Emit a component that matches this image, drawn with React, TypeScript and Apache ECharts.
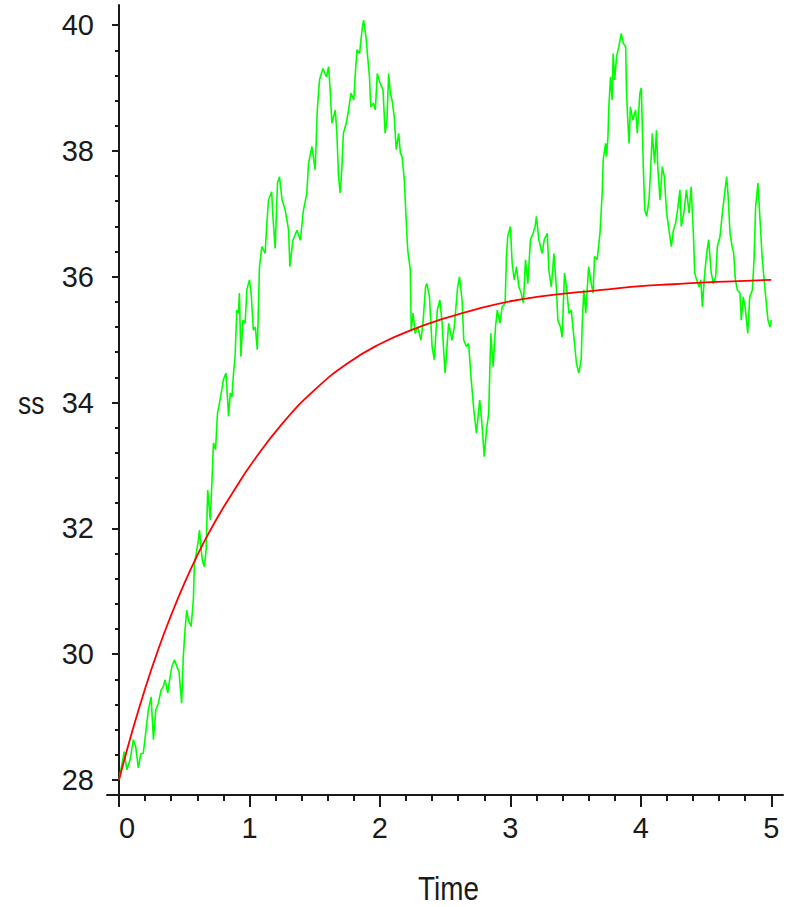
import React, { useEffect, useRef } from "react";
import * as echarts from "echarts";

// ---- tick labels ----
const xMajorTicks = [0, 1, 2, 3, 4, 5];
const yMajorTicks = [28, 30, 32, 34, 36, 38, 40];
const xAxisTitle = "Time";
const yAxisTitle = "ss";

// ---- red (mean) curve: [time, ss] ----
const meanPath: [number, number][] = [
  [0, 28.0], [0.1, 28.76], [0.2, 29.45], [0.3, 30.07], [0.4, 30.62], [0.5, 31.12],
  [0.6, 31.57], [0.7, 31.97], [0.8, 32.33], [0.9, 32.66], [1.0, 32.98], [1.25, 33.66],
  [1.5, 34.2], [1.75, 34.62], [2.0, 34.93], [2.25, 35.16], [2.5, 35.34], [2.75, 35.49],
  [3.0, 35.61], [3.25, 35.69], [3.5, 35.75], [3.75, 35.8], [4.0, 35.85], [4.25, 35.88],
  [4.5, 35.91], [4.75, 35.93], [5.0, 35.95],
];

// ---- green (simulated) path: [time, ss] ----
const simulatedPath: [number, number][] = [
  [0, 28.0], [0.04, 28.45], [0.06, 28.16], [0.085, 28.32], [0.11, 28.64], [0.128, 28.53],
  [0.148, 28.19], [0.168, 28.42], [0.186, 28.42], [0.204, 28.74], [0.225, 29.11], [0.246, 29.32],
  [0.264, 28.64], [0.282, 29.11], [0.302, 29.22], [0.323, 29.43], [0.34, 29.48], [0.353, 29.59],
  [0.374, 29.38], [0.384, 29.54], [0.405, 29.8], [0.425, 29.91], [0.444, 29.8], [0.46, 29.72],
  [0.48, 29.22], [0.493, 29.96], [0.506, 30.38], [0.519, 30.7], [0.532, 30.54], [0.553, 30.44],
  [0.57, 30.86], [0.578, 31.44], [0.597, 31.66], [0.609, 31.82], [0.617, 31.97], [0.635, 31.55],
  [0.645, 31.44], [0.655, 31.39], [0.668, 31.66], [0.68, 32.61], [0.7, 32.13], [0.713, 32.77],
  [0.724, 33.36], [0.74, 33.25], [0.755, 33.83], [0.77, 33.99], [0.788, 34.2], [0.8, 34.36],
  [0.82, 34.47], [0.84, 33.78], [0.853, 34.15], [0.866, 34.09], [0.878, 34.47], [0.89, 34.73],
  [0.903, 35.47], [0.916, 35.42], [0.923, 35.74], [0.934, 34.73], [0.95, 35.31], [0.967, 35.26],
  [0.98, 35.79], [0.992, 35.89], [1.0, 35.95], [1.013, 35.74], [1.03, 35.15], [1.045, 35.2],
  [1.06, 34.84], [1.077, 36.16], [1.095, 36.48], [1.12, 36.37], [1.13, 36.74], [1.146, 37.22],
  [1.17, 37.35], [1.18, 36.96], [1.197, 36.45], [1.215, 37.49], [1.23, 37.59], [1.25, 37.22],
  [1.274, 37.06], [1.3, 36.74], [1.31, 36.16], [1.333, 36.58], [1.364, 36.74], [1.39, 36.58],
  [1.414, 37.06], [1.44, 37.33], [1.453, 37.8], [1.479, 38.07], [1.504, 37.7], [1.52, 38.65],
  [1.537, 39.13], [1.563, 39.31], [1.59, 39.18], [1.607, 39.34], [1.62, 38.92], [1.632, 38.44],
  [1.658, 38.65], [1.67, 38.28], [1.683, 37.59], [1.696, 37.33], [1.709, 37.75], [1.72, 38.28],
  [1.742, 38.44], [1.76, 38.65], [1.778, 38.92], [1.8, 38.81], [1.81, 39.18], [1.824, 39.61],
  [1.844, 39.55], [1.863, 39.92], [1.875, 40.08], [1.893, 39.82], [1.906, 39.5], [1.92, 39.18],
  [1.93, 38.7], [1.95, 38.76], [1.965, 38.65], [1.98, 39.23], [2.003, 39.07], [2.024, 38.97],
  [2.04, 38.28], [2.054, 38.49], [2.067, 39.23], [2.08, 38.92], [2.093, 38.81], [2.11, 38.54],
  [2.125, 38.02], [2.144, 38.28], [2.157, 37.96], [2.17, 37.91], [2.187, 37.54], [2.2, 36.96],
  [2.213, 36.43], [2.233, 36.11], [2.24, 35.15], [2.254, 35.42], [2.27, 35.1], [2.29, 35.2],
  [2.315, 34.99], [2.33, 35.26], [2.35, 35.84], [2.36, 35.89], [2.38, 35.68], [2.4, 34.89],
  [2.417, 34.68], [2.44, 35.47], [2.46, 35.63], [2.477, 35.26], [2.49, 34.78], [2.5, 34.47],
  [2.527, 35.26], [2.553, 34.99], [2.57, 35.2], [2.596, 35.84], [2.61, 36.0], [2.63, 35.63],
  [2.643, 34.99], [2.663, 34.89], [2.68, 34.94], [2.7, 34.36], [2.72, 33.88], [2.74, 33.51],
  [2.765, 34.04], [2.78, 33.72], [2.8, 33.14], [2.817, 33.56], [2.834, 33.83], [2.85, 35.1],
  [2.868, 34.57], [2.886, 35.2], [2.9, 35.47], [2.92, 35.26], [2.937, 35.52], [2.96, 35.58],
  [2.97, 36.32], [2.98, 36.64], [3.0, 36.8], [3.014, 36.21], [3.03, 35.95], [3.047, 36.16],
  [3.065, 35.84], [3.083, 35.74], [3.1, 35.58], [3.116, 36.27], [3.134, 35.89], [3.154, 36.59],
  [3.174, 36.69], [3.19, 36.8], [3.2, 36.96], [3.218, 36.59], [3.244, 36.37], [3.26, 36.59],
  [3.283, 36.69], [3.295, 36.11], [3.314, 35.84], [3.334, 36.37], [3.354, 35.79], [3.364, 35.31],
  [3.384, 35.2], [3.397, 35.04], [3.415, 36.06], [3.43, 35.84], [3.449, 35.42], [3.467, 35.47],
  [3.487, 35.04], [3.507, 34.62], [3.525, 34.47], [3.543, 34.68], [3.55, 35.2], [3.563, 35.79],
  [3.578, 35.42], [3.6, 36.16], [3.62, 35.89], [3.635, 35.74], [3.645, 36.32], [3.665, 36.27],
  [3.687, 36.69], [3.704, 37.33], [3.712, 37.86], [3.73, 38.12], [3.737, 37.91], [3.748, 38.22],
  [3.755, 38.7], [3.768, 39.18], [3.78, 38.81], [3.788, 39.55], [3.8, 39.13], [3.814, 39.5],
  [3.832, 39.66], [3.85, 39.87], [3.866, 39.71], [3.884, 39.66], [3.89, 38.97], [3.9, 38.49],
  [3.91, 38.12], [3.92, 38.7], [3.94, 38.49], [3.96, 38.65], [3.973, 38.28], [3.993, 38.92],
  [4.004, 39.0], [4.02, 37.7], [4.03, 37.06], [4.045, 36.96], [4.063, 37.22], [4.075, 37.7],
  [4.088, 38.28], [4.106, 37.8], [4.12, 38.33], [4.13, 37.75], [4.147, 37.22], [4.165, 37.75],
  [4.18, 37.59], [4.198, 37.01], [4.216, 36.74], [4.234, 36.48], [4.25, 36.74], [4.267, 36.85],
  [4.285, 37.11], [4.3, 37.38], [4.31, 36.8], [4.33, 37.01], [4.35, 37.38], [4.37, 37.01],
  [4.386, 37.43], [4.403, 36.69], [4.413, 36.06], [4.428, 35.95], [4.446, 35.84], [4.46, 35.95],
  [4.472, 35.52], [4.49, 36.06], [4.505, 36.37], [4.52, 36.59], [4.54, 36.06], [4.556, 35.89],
  [4.574, 36.0], [4.587, 36.48], [4.607, 36.64], [4.625, 37.01], [4.643, 37.33], [4.658, 37.59],
  [4.668, 37.33], [4.684, 36.69], [4.7, 36.48], [4.712, 36.37], [4.725, 35.95], [4.74, 35.79],
  [4.76, 35.74], [4.77, 35.31], [4.785, 35.68], [4.8, 35.52], [4.82, 35.1], [4.835, 35.68],
  [4.855, 35.79], [4.868, 36.27], [4.88, 37.11], [4.898, 37.49], [4.914, 36.9], [4.93, 36.32],
  [4.95, 35.84], [4.965, 35.52], [4.975, 35.31], [4.99, 35.2], [5.0, 35.31],
];

const FONT = "'Liberation Sans', Arial, sans-serif";
const INK = "#1a1a1a";

function minorValues(major: number[], parts: number): number[] {
  const out: number[] = [];
  for (let i = 0; i < major.length - 1; i++) {
    const step = (major[i + 1] - major[i]) / parts;
    for (let k = 1; k < parts; k++) out.push(+(major[i] + k * step).toFixed(4));
  }
  return out;
}

export default function App() {
  const ref = useRef<HTMLDivElement>(null);

  useEffect(() => {
    document.body.style.margin = "0";
    if (!ref.current) return;
    const chart = echarts.init(ref.current, null, { renderer: "svg" });

    const xMin = -0.092;
    const xMax = 5.09;
    const yMin = 27.76;
    const yMax = 40.32;

    const common = { min: 0, max: 0 };
    void common;

    chart.setOption({
      animation: false,
      backgroundColor: "#ffffff",
      grid: { left: 107, top: 5, width: 676, height: 790, containLabel: false },
      xAxis: [
        {
          type: "value",
          min: xMin,
          max: xMax,
          position: "bottom",
          axisLine: { show: true, onZero: false, lineStyle: { color: INK, width: 2 } },
          axisTick: {
            show: true,
            customValues: xMajorTicks,
            length: 12,
            inside: false,
            lineStyle: { color: INK, width: 2 },
          },
          axisLabel: {
            show: true,
            customValues: xMajorTicks,
            margin: 18,
            color: INK,
            fontSize: 29,
            fontFamily: FONT,
            formatter: (v: number) => (v === 0 ? "{z|0}" : "{n|" + String(v) + "}"),
            rich: {
              z: { fontSize: 29, fontFamily: FONT, color: INK, padding: [0, 0, 0, 16] },
              n: { fontSize: 29, fontFamily: FONT, color: INK },
            },
          },
          splitLine: { show: false },
        },
        {
          type: "value",
          min: xMin,
          max: xMax,
          position: "bottom",
          axisLine: { show: false, onZero: false },
          axisTick: {
            show: true,
            customValues: minorValues(xMajorTicks, 5),
            length: 6,
            lineStyle: { color: INK, width: 2 },
          },
          axisLabel: { show: false },
          splitLine: { show: false },
        },
      ],
      yAxis: [
        {
          type: "value",
          min: yMin,
          max: yMax,
          position: "left",
          axisLine: { show: true, onZero: true, lineStyle: { color: INK, width: 2 } },
          axisTick: {
            show: true,
            customValues: yMajorTicks,
            length: 7,
            lineStyle: { color: INK, width: 2 },
          },
          axisLabel: {
            show: true,
            customValues: yMajorTicks,
            margin: 13,
            color: INK,
            fontSize: 29,
            fontFamily: FONT,
          },
          splitLine: { show: false },
        },
        {
          type: "value",
          min: yMin,
          max: yMax,
          position: "left",
          axisLine: { show: false, onZero: true },
          axisTick: {
            show: true,
            customValues: minorValues(yMajorTicks, 5),
            length: 4,
            lineStyle: { color: INK, width: 2 },
          },
          axisLabel: { show: false },
          splitLine: { show: false },
        },
      ],
      series: [
        {
          name: "simulated",
          type: "line",
          data: simulatedPath,
          showSymbol: false,
          symbol: "none",
          lineStyle: { color: "#00ff00", width: 1.6 },
          xAxisIndex: 0,
          yAxisIndex: 0,
          z: 2,
        },
        {
          name: "mean",
          type: "line",
          data: meanPath,
          smooth: true,
          showSymbol: false,
          symbol: "none",
          lineStyle: { color: "#ff0000", width: 1.8 },
          xAxisIndex: 0,
          yAxisIndex: 0,
          z: 3,
        },
      ],
      graphic: [
        {
          type: "text",
          left: 18,
          top: 388,
          scaleX: 0.85,
          style: { text: yAxisTitle, fontSize: 31, fontFamily: FONT, fill: INK },
        },
        {
          type: "text",
          left: 418,
          top: 872,
          scaleX: 0.82,
          style: { text: xAxisTitle, fontSize: 34, fontFamily: FONT, fill: INK },
        },
      ],
    });

    return () => chart.dispose();
  }, []);

  return <div ref={ref} style={{ width: 792, height: 907 }} />;
}
